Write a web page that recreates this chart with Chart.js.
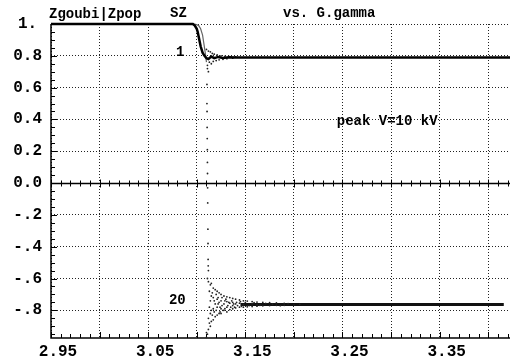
<!DOCTYPE html>
<html>
<head>
<meta charset="utf-8">
<script src="https://cdn.jsdelivr.net/npm/chart.js@4.4.0/dist/chart.umd.min.js"></script>
<style>
  html, body { margin: 0; padding: 0; background: #fff; }
  #wrap { width: 514px; height: 361px; }
</style>
</head>
<body>
<div id="wrap"><canvas id="sz" width="514" height="361"></canvas></div>
<script>
// axis values
const xMin = 2.95, xMax = 3.4224;
const yMin = -0.974, yMax = 1.0;
const xGridValues = [2.95, 3.00, 3.05, 3.10, 3.15, 3.20, 3.25, 3.30, 3.35, 3.40];
const xTickLabels = ['2.95', '', '3.05', '', '3.15', '', '3.25', '', '3.35', ''];
const yGridValues = [-0.8, -0.6, -0.4, -0.2, 0.0, 0.2, 0.4, 0.6, 0.8, 1.0];
const yTickLabels = ['-.8', '-.6', '-.4', '-.2', '0.0', '0.2', '0.4', '0.6', '0.8', '1.'];

// particle 1 : SZ goes from 1 to ~0.79
const p1X = [2.95, 3.096, 3.098, 3.100, 3.101, 3.102, 3.103, 3.104, 3.106, 3.108, 3.110, 3.112, 3.115, 3.118, 3.122, 3.127, 3.133, 3.140, 3.160, 3.4224];
const p1Y = [1.0, 1.0, 0.99, 0.97, 0.95, 0.92, 0.89, 0.86, 0.82, 0.80, 0.785, 0.78, 0.795, 0.785, 0.793, 0.787, 0.791, 0.789, 0.79, 0.79];

// second curve bending down, before the spin flip
const p2X = [3.096, 3.099, 3.102, 3.104, 3.106, 3.107, 3.108, 3.109, 3.110];
const p2Y = [1.0, 0.998, 0.99, 0.97, 0.93, 0.89, 0.85, 0.81, 0.76];

// scattered turns settling near 0.79
const fanTopX = [3.110, 3.111, 3.111, 3.112, 3.112, 3.113, 3.114, 3.115, 3.116, 3.117, 3.118, 3.120, 3.121, 3.123, 3.125, 3.127, 3.129, 3.131, 3.134, 3.137, 3.140];
const fanTopY = [0.84, 0.74, 0.72, 0.83, 0.70, 0.76, 0.825, 0.75, 0.815, 0.765, 0.81, 0.77, 0.805, 0.775, 0.80, 0.778, 0.797, 0.782, 0.795, 0.785, 0.793];

// particle 20 crossing zero
const dropX = [3.1105, 3.1105, 3.1106, 3.1107, 3.1108, 3.1109, 3.1110, 3.1111, 3.1112, 3.1113, 3.1115, 3.1116, 3.1117, 3.1118, 3.1120];
const dropY = [0.62, 0.50, 0.45, 0.35, 0.28, 0.21, 0.13, 0.06, -0.03, -0.125, -0.29, -0.38, -0.48, -0.52, -0.55];

// turns settling near -0.764
const fanLowX = [
  3.110, 3.110, 3.111, 3.111, 3.112, 3.112, 3.112, 3.113, 3.113, 3.113,
  3.114, 3.114, 3.114, 3.114, 3.115, 3.115, 3.115, 3.115, 3.117, 3.117,
  3.117, 3.117, 3.119, 3.119, 3.119, 3.121, 3.121, 3.121, 3.121, 3.123,
  3.123, 3.123, 3.125, 3.125, 3.125, 3.125, 3.128, 3.128, 3.128, 3.131,
  3.131, 3.131, 3.131, 3.134, 3.134, 3.134, 3.137, 3.137, 3.137, 3.137,
  3.140, 3.140, 3.140, 3.144, 3.144, 3.144, 3.148, 3.148, 3.148, 3.152,
  3.152, 3.152, 3.157, 3.157, 3.157, 3.162, 3.162, 3.162, 3.168, 3.168,
  3.175, 3.175, 3.182, 3.182, 3.190, 3.190
];
const fanLowY = [
  -0.94, -0.97, -0.60, -0.95, -0.62, -0.85, -0.92, -0.68, -0.78, -0.88,
  -0.64, -0.74, -0.82, -0.90, -0.63, -0.71, -0.80, -0.87, -0.66, -0.72,
  -0.79, -0.86, -0.67, -0.76, -0.84, -0.68, -0.73, -0.78, -0.83, -0.69,
  -0.75, -0.82, -0.70, -0.74, -0.79, -0.82, -0.71, -0.76, -0.80, -0.715,
  -0.745, -0.78, -0.81, -0.72, -0.755, -0.795, -0.725, -0.75, -0.77, -0.79,
  -0.73, -0.76, -0.785, -0.735, -0.755, -0.78, -0.74, -0.765, -0.78, -0.742,
  -0.77, -0.778, -0.745, -0.758, -0.776, -0.748, -0.764, -0.774, -0.75, -0.772,
  -0.752, -0.77, -0.754, -0.768, -0.756, -0.768
];
// extra scattered turns inside the low envelope
const fanMidX = [
  3.116, 3.116, 3.118, 3.118, 3.120, 3.120, 3.122, 3.122, 3.124, 3.124,
  3.126, 3.126, 3.127, 3.129, 3.129, 3.130, 3.132, 3.133, 3.135, 3.136,
  3.138, 3.139, 3.141, 3.142, 3.145, 3.146, 3.150, 3.154, 3.159, 3.165,
  3.171, 3.178, 3.186, 3.194, 3.200, 3.206
];
const fanMidY = [
  -0.69, -0.83, -0.74, -0.81, -0.70, -0.80, -0.76, -0.72, -0.78, -0.81,
  -0.72, -0.77, -0.80, -0.74, -0.79, -0.73, -0.77, -0.75, -0.78, -0.74,
  -0.76, -0.78, -0.75, -0.77, -0.745, -0.775, -0.75, -0.77, -0.752, -0.768,
  -0.757, -0.761, -0.771, -0.758, -0.766, -0.762
];

// settled line of particle 20
const p20X = [3.145, 3.416];
const p20Y = [-0.764, -0.764];

const notes = [
  { text: '1', x: 3.083, y: 0.822 },
  { text: '20', x: 3.080, y: -0.736 },
  { text: 'peak V=10 kV', x: 3.296, y: 0.39 }
];

const pts = (xs, ys) => xs.map((v, i) => ({ x: v, y: ys[i] }));
const mono = 'Liberation Mono, DejaVu Sans Mono, monospace';

const framePlugin = {
  id: 'frame',
  beforeDatasetsDraw(chart) {
    const { ctx, chartArea: a, scales: { x, y } } = chart;
    ctx.save();
    ctx.strokeStyle = '#000';
    ctx.lineWidth = 1.5;
    const y0 = Math.round(y.getPixelForValue(0)) + 0.5;
    ctx.beginPath();
    ctx.moveTo(a.left, a.top); ctx.lineTo(a.left, a.bottom); ctx.lineTo(a.right, a.bottom);
    ctx.moveTo(a.left, y0); ctx.lineTo(a.right, y0);
    ctx.stroke();
    ctx.lineWidth = 1;
    ctx.beginPath();
    for (let k = 295; k <= 342; k++) {
      const px = Math.round(x.getPixelForValue(k / 100)) + 0.5;
      const major = k % 5 === 0;
      ctx.moveTo(px, a.bottom); ctx.lineTo(px, a.bottom - (major ? 6 : 4));
      ctx.moveTo(px, y0 - (major ? 4 : 3)); ctx.lineTo(px, y0 + (major ? 4 : 3));
    }
    for (let k = -19; k <= 20; k++) {
      const py = Math.round(y.getPixelForValue(k / 20)) + 0.5;
      ctx.moveTo(a.left, py); ctx.lineTo(a.left + (k % 4 === 0 ? 6 : 4), py);
    }
    ctx.stroke();
    ctx.restore();
  },
  afterDraw(chart) {
    const { ctx, scales: { x, y } } = chart;
    ctx.save();
    ctx.fillStyle = '#000';
    ctx.textBaseline = 'middle';
    ctx.textAlign = 'center';
    ctx.font = 'bold 14px ' + mono;
    for (const n of notes) {
      ctx.fillText(n.text, x.getPixelForValue(n.x), y.getPixelForValue(n.y));
    }
    ctx.textAlign = 'left';
    ctx.textBaseline = 'alphabetic';
    ctx.font = 'bold 14px ' + mono;
    ctx.fillText('Zgoubi|Zpop', 49, 18);
    ctx.fillText('SZ', 170, 17);
    ctx.fillText('vs. G.gamma', 283, 17);
    ctx.restore();
  }
};

const lineDs = (data, width, color) => ({
  data, showLine: true, borderColor: color, borderWidth: width,
  pointRadius: 0, tension: 0, clip: 4
});
const dotDs = (data, color) => ({
  data, showLine: false, backgroundColor: color, borderWidth: 0,
  pointRadius: 0.9, clip: 4
});

new Chart('sz', {
  type: 'scatter',
  data: {
    datasets: [
      lineDs(pts(p1X, p1Y), 2.5, '#000'),
      lineDs(pts(p2X, p2Y), 1.2, '#666'),
      dotDs(pts(fanTopX, fanTopY), '#222'),
      dotDs(pts(dropX, dropY), '#222'),
      dotDs(pts(fanLowX, fanLowY), '#222'),
      dotDs(pts(fanMidX, fanMidY), '#222'),
      lineDs(pts(p20X, p20Y), 3, '#111')
    ]
  },
  options: {
    responsive: false,
    animation: false,
    devicePixelRatio: 1,
    layout: { padding: { top: 24, right: 0, bottom: 0, left: 0 } },
    plugins: { legend: { display: false }, tooltip: { enabled: false } },
    scales: {
      x: {
        type: 'linear', min: xMin, max: xMax,
        afterBuildTicks: s => { s.ticks = xGridValues.map(v => ({ value: v })); },
        afterFit: s => { s.height = 23; },
        grid: { color: '#222', lineWidth: 1, drawTicks: false },
        border: { display: false, dash: [1, 2] },
        ticks: {
          autoSkip: false, maxRotation: 0, padding: 4, labelOffset: 7,
          color: '#000', font: { family: mono, weight: 'bold', size: 16 },
          callback: (v, i) => xTickLabels[i]
        }
      },
      y: {
        type: 'linear', min: yMin, max: yMax,
        afterBuildTicks: s => { s.ticks = yGridValues.map(v => ({ value: v })); },
        afterFit: s => { s.width = 51; },
        grid: { color: '#222', lineWidth: 1, drawTicks: false },
        border: { display: false, dash: [1, 2] },
        ticks: {
          autoSkip: false, padding: 9, crossAlign: 'center',
          color: '#000', font: { family: mono, weight: 'bold', size: 16 },
          callback: (v, i) => yTickLabels[i]
        }
      }
    }
  },
  plugins: [framePlugin]
});
</script>
</body>
</html>
